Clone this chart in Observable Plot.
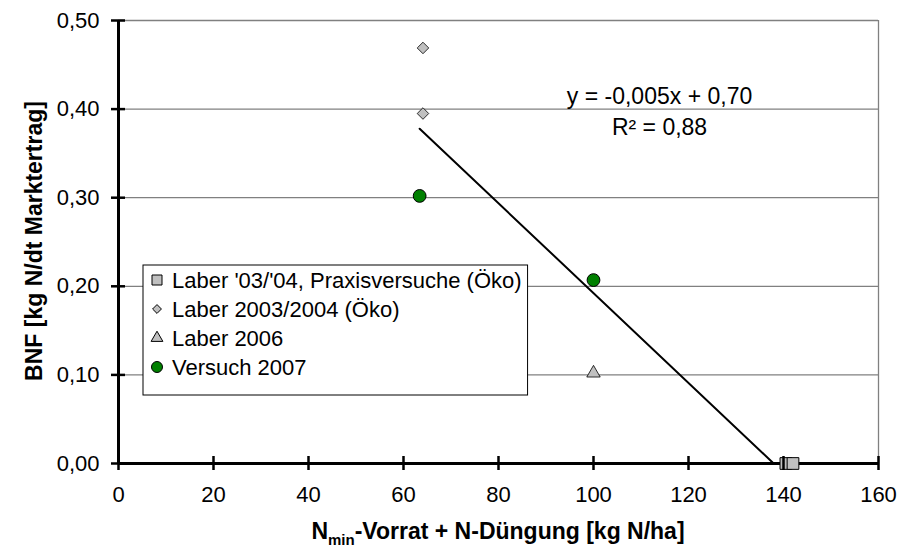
<!DOCTYPE html>
<html>
<head>
<meta charset="utf-8">
<script src="https://cdn.jsdelivr.net/npm/d3@7"></script>
<script src="https://cdn.jsdelivr.net/npm/@observablehq/plot@0.6"></script>
<style>
  html, body { margin: 0; padding: 0; background: #fff; }
  #chart { width: 902px; height: 547px; }
</style>
</head>
<body>
<div id="chart"></div>
<script>
// ---- data ----
const squaresX = [140.5, 142];
const squaresY = [0, 0];
const diamondsX = [64.1, 64.1];
const diamondsY = [0.469, 0.395];
const trianglesX = [100];
const trianglesY = [0.102];
const circlesX = [63.4, 100];
const circlesY = [0.302, 0.207];

const seriesNames = ["Laber '03/'04, Praxisversuche (Öko)", "Laber 2003/2004 (Öko)", "Laber 2006", "Versuch 2007"];
const seriesSymbols = ["square", "diamond2", "triangle", "circle"];
const seriesFills = ["#c0c0c0", "#c0c0c0", "#c0c0c0", "#008000"];

// trendline (linear fit shown in the chart)
const trendSlope = -0.00507;
const trendIntercept = 0.6993;
const trendXStart = 63.4;

const xTicks = [0, 20, 40, 60, 80, 100, 120, 140, 160];
const yTicks = [0, 0.1, 0.2, 0.3, 0.4, 0.5];
const gridY = [0.1, 0.2, 0.3, 0.4, 0.5];

const equationLines = ["y = -0,005x + 0,70", "R² = 0,88"];
const equationX = [113.9, 113.9];
const equationY = [0.414, 0.379];

const xTitleMain = "N";
const xTitleSub = "min";
const xTitleRest = "-Vorrat + N-Düngung [kg N/ha]";
const yTitle = "BNF [kg N/dt Marktertrag]";

// ---- build tables ----
const pts = (xs, ys) => xs.map((x, i) => ({x, y: ys[i]}));
const squares = pts(squaresX, squaresY);
const diamonds = pts(diamondsX, diamondsY);
const triangles = pts(trianglesX, trianglesY);
const circles = pts(circlesX, circlesY);
const trendXEnd = -trendIntercept / trendSlope;
const trend = [trendXStart, trendXEnd].map(x => ({x, y: trendSlope * x + trendIntercept}));
const equation = equationLines.map((t, i) => ({t, x: equationX[i], y: equationY[i]}));

const fmt = d => d3.format(".2f")(d).replace(".", ",");
const FONT = "'Liberation Sans', Arial, sans-serif";
const FS = 22;
const FT = 23;

const chart = Plot.plot({
  width: 902,
  height: 547,
  marginLeft: 118,
  marginRight: 24,
  marginTop: 20,
  marginBottom: 84,
  style: {fontFamily: FONT, fontSize: FS + "px", color: "#000", background: "#fff", overflow: "visible"},
  x: {domain: [0, 160]},
  y: {domain: [0, 0.5]},
  marks: [
    Plot.ruleY(gridY, {stroke: "#808080", strokeWidth: 1.3}),
    Plot.ruleX([160], {stroke: "#808080", strokeWidth: 1.3}),
    Plot.line(trend, {x: "x", y: "y", stroke: "#000", strokeWidth: 2}),
    Plot.dot(diamonds, {x: "x", y: "y", symbol: () => "diamond2", r: 5.2, fill: "#c0c0c0", stroke: "#000", strokeWidth: 0.8}),
    Plot.dot(triangles, {x: "x", y: "y", symbol: () => "triangle", r: 5, fill: "#c0c0c0", stroke: "#000", strokeWidth: 0.8}),
    Plot.dot(circles, {x: "x", y: "y", r: 6.4, fill: "#008000", stroke: "#000", strokeWidth: 1}),
    Plot.ruleX([0], {stroke: "#000", strokeWidth: 3}),
    Plot.ruleY([0], {stroke: "#000", strokeWidth: 3}),
    Plot.dot(squares, {x: "x", y: "y", symbol: () => "square", r: 6.6, fill: "#c0c0c0", stroke: "#000", strokeWidth: 1}),
    Plot.axisY(yTicks, {anchor: "left", tickSize: 7, tickPadding: 12, tickFormat: fmt, label: null, strokeWidth: 2.5}),
    Plot.axisY(yTicks, {anchor: "left", tickSize: -7, tickFormat: () => "", label: null, strokeWidth: 2.5}),
    Plot.axisX(xTicks, {anchor: "bottom", tickSize: 7, tickPadding: 16, tickFormat: d => String(d), label: null, strokeWidth: 2.5}),
    Plot.axisX(xTicks, {anchor: "bottom", tickSize: -7, tickFormat: () => "", label: null, strokeWidth: 2.5}),
    Plot.text(equation, {x: "x", y: "y", text: "t", fontSize: 23, fill: "#000"})
  ]
});

document.getElementById("chart").appendChild(chart);

const svg = d3.select(chart);

// axis titles
svg.append("text")
  .attr("transform", "translate(36,241) rotate(-90)")
  .attr("text-anchor", "middle")
  .attr("dominant-baseline", "middle")
  .attr("font-family", FONT).attr("font-size", FT).attr("font-weight", "bold")
  .attr("fill", "#000")
  .text(yTitle);

const xt = svg.append("text")
  .attr("x", 498).attr("y", 539)
  .attr("text-anchor", "middle")
  .attr("font-family", FONT).attr("font-size", FT).attr("font-weight", "bold")
  .attr("fill", "#000");
xt.append("tspan").text(xTitleMain);
xt.append("tspan").attr("font-size", 15).attr("dy", 6).text(xTitleSub);
xt.append("tspan").attr("dy", -6).text(xTitleRest);

// legend
const lg = svg.append("g").attr("transform", "translate(143,265)");
const box = lg.append("rect").attr("x", 0).attr("y", 0).attr("height", 130)
  .attr("fill", "#fff").attr("stroke", "#000").attr("stroke-width", 1);
const rowY = [15, 44, 73, 102];
let maxW = 0;
seriesNames.forEach((name, i) => {
  const sym = {square: d3.symbolSquare, diamond2: d3.symbolDiamond2, triangle: d3.symbolTriangle, circle: d3.symbolCircle}[seriesSymbols[i]];
  const size = {square: 100, diamond2: 50, triangle: 60, circle: 95}[seriesSymbols[i]];
  lg.append("path")
    .attr("d", d3.symbol(sym, size)())
    .attr("transform", `translate(14,${rowY[i]})`)
    .attr("fill", seriesFills[i]).attr("stroke", "#000").attr("stroke-width", 1);
  const t = lg.append("text")
    .attr("x", 29).attr("y", rowY[i])
    .attr("text-anchor", "start")
    .attr("dominant-baseline", "central")
    .attr("font-family", FONT).attr("font-size", FS)
    .attr("fill", "#000")
    .text(name);
  maxW = Math.max(maxW, t.node().getComputedTextLength());
});
box.attr("width", 29 + maxW + 6);
</script>
</body>
</html>
